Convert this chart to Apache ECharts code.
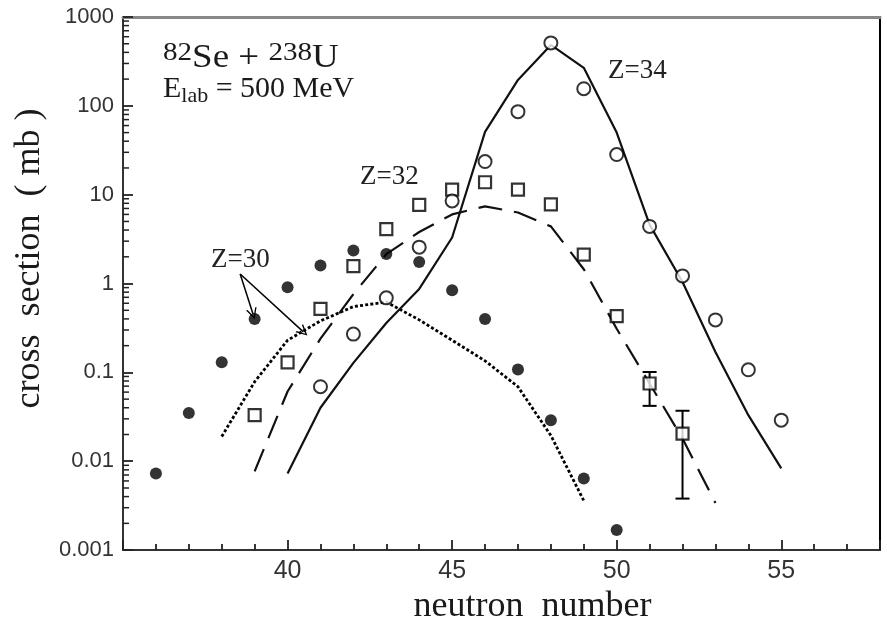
<!DOCTYPE html>
<html>
<head>
<meta charset="utf-8">
<script src="https://cdn.jsdelivr.net/npm/echarts@6/dist/echarts.min.js"></script>
<style>
html,body{margin:0;padding:0;background:#fff;}
#c{width:887px;height:630px;}
</style>
</head>
<body>
<div id="c"></div>
<script>
// ---- data ----
const yTickLabels = ['0.001', '0.01', '0.1', '1', '10', '100', '1000'];
// minor tick mantissas within each decade of the log axis
const yMinorMantissas = [2, 3, 4, 5, 6, 7, 8, 9];
const yDecades = [0.001, 0.01, 0.1, 1, 10, 100];

// Z=30 data (filled circles)
const nZ30 = [36, 37, 38, 39, 40, 41, 42, 43, 44, 45, 46, 47, 48, 49, 50];
const sZ30 = [0.0073, 0.035, 0.13, 0.40, 0.91, 1.6, 2.35, 2.15, 1.75, 0.84, 0.40, 0.108, 0.029, 0.0064, 0.00168];

// Z=32 data (open squares)
const nZ32 = [39, 40, 41, 42, 43, 44, 45, 46, 47, 48, 49, 50, 51, 52];
const sZ32 = [0.033, 0.13, 0.52, 1.57, 4.1, 7.7, 11.4, 13.8, 11.4, 7.8, 2.12, 0.43, 0.075, 0.0205];

// Z=34 data (open circles)
const nZ34 = [41, 42, 43, 44, 45, 46, 47, 48, 49, 50, 51, 52, 53, 54, 55];
const sZ34 = [0.069, 0.27, 0.69, 2.57, 8.5, 23.6, 86, 511, 156, 28.3, 4.4, 1.22, 0.39, 0.107, 0.029];

// error bars on Z=32 : [N, low, high]
const errN = [51, 52];
const errLow = [0.042, 0.0038];
const errHigh = [0.101, 0.037];

// calculated curves
const cN30 = [38, 39, 40, 41, 42, 43, 44, 45, 46, 47, 48, 49];
const c30 = [0.019, 0.0785, 0.23, 0.38, 0.55, 0.62, 0.39, 0.23, 0.135, 0.069, 0.0195, 0.0036];

const cN32 = [39, 40, 41, 42, 43, 44, 45, 46, 47, 48, 49, 50, 51, 52, 53];
const c32 = [0.0077, 0.061, 0.24, 0.76, 2.14, 3.8, 6.0, 7.4, 6.3, 4.4, 1.45, 0.31, 0.075, 0.018, 0.0034];

const cN34 = [40, 41, 42, 43, 44, 45, 46, 47, 48, 49, 50, 51, 52, 53, 54, 55];
const c34 = [0.0073, 0.040, 0.128, 0.36, 0.87, 3.3, 51, 196, 485, 268, 50, 4.6, 1.04, 0.17, 0.033, 0.0083];

// arrow annotation for Z=30 : start and two ends (data units)
const arrowStart = [38.56, 1.28];
const arrowEnds = [[38.95, 0.455], [40.48, 0.286]];

// ---- build ----
const zip = (a, b) => a.map((v, i) => [v, b[i]]);
const SERIF = '"Liberation Serif", "Times New Roman", serif';
const SANS = '"Liberation Sans", Arial, sans-serif';
const INK = '#111';
const TICK = '#222';
const X_MIN = 35, X_MAX = 58;

const yMinorValues = [];
yDecades.forEach(d => yMinorMantissas.forEach(m => yMinorValues.push(d * m)));

const chart = echarts.init(document.getElementById('c'), null, {renderer: 'canvas'});

const chevron = 'path://M5,0 L10,10 L8.6,10 L5,2.6 L1.4,10 L0,10 Z';

const option = {
  animation: false,
  backgroundColor: '#fff',
  textStyle: {fontFamily: SERIF, color: '#222'},
  grid: {left: 123, right: 7, top: 17, bottom: 78},
  xAxis: [{
    type: 'value', min: X_MIN, max: X_MAX, interval: 5,
    name: 'neutron  number', nameLocation: 'middle', nameGap: 36,
    nameTextStyle: {fontFamily: SERIF, fontSize: 36, color: '#1a1a1a', padding: [0, 0, 0, 62]},
    axisLine: {show: true, lineStyle: {color: '#333', width: 2}},
    axisTick: {show: true, inside: true, length: 10, lineStyle: {color: TICK, width: 1.8}},
    minorTick: {show: true, splitNumber: 5, length: 6, lineStyle: {color: TICK, width: 1.8}},
    axisLabel: {fontFamily: SANS, fontSize: 25, color: '#333', margin: 9, showMinLabel: false, showMaxLabel: false},
    splitLine: {show: false}
  }, {
    type: 'value', min: X_MIN, max: X_MAX, position: 'top',
    axisLine: {show: true, lineStyle: {color: '#888', width: 3}},
    axisTick: {show: false}, axisLabel: {show: false}, splitLine: {show: false}
  }],
  yAxis: [{
    type: 'log', logBase: 10, min: 0.001, max: 1000,
    name: 'cross  section  ( mb )', nameLocation: 'middle', nameGap: 68,
    nameTextStyle: {fontFamily: SERIF, fontSize: 36, color: '#1a1a1a', padding: [0, 0, 0, 50]},
    axisLine: {show: true, lineStyle: {color: '#333', width: 2}},
    axisTick: {show: true, inside: true, length: 10, lineStyle: {color: TICK, width: 1.8}},
    axisLabel: {
      fontFamily: SANS, fontSize: 22, color: '#333', margin: 9,
      formatter: v => yTickLabels[Math.round(Math.log10(v)) + 3]
    },
    splitLine: {show: false}
  }, {
    type: 'log', logBase: 10, min: 0.001, max: 1000, position: 'right',
    axisLine: {show: true, lineStyle: {color: '#000', width: 2}},
    axisTick: {show: false}, axisLabel: {show: false}, splitLine: {show: false}
  }],
  series: [
    {
      name: 'y minor ticks', type: 'custom', z: 2, silent: true,
      data: yMinorValues.map(v => [X_MIN, v]),
      renderItem: function (params, api) {
        const p = api.coord([api.value(0), api.value(1)]);
        return {type: 'line', shape: {x1: p[0], y1: p[1], x2: p[0] + 6, y2: p[1]},
                style: {stroke: TICK, lineWidth: 1.5}};
      }
    },
    {
      name: 'calc Z=30', type: 'line', data: zip(cN30, c30), showSymbol: false, symbol: 'none',
      lineStyle: {color: '#000', width: 2.8, type: [3, 2.2]}, z: 3
    },
    {
      name: 'calc Z=32', type: 'line', data: zip(cN32, c32), showSymbol: false, symbol: 'none',
      lineStyle: {color: INK, width: 2.2, type: [24, 12]}, z: 3
    },
    {
      name: 'calc Z=34', type: 'line', data: zip(cN34, c34), showSymbol: false, symbol: 'none',
      lineStyle: {color: INK, width: 2.2}, z: 3
    },
    {
      name: 'Z=30', type: 'scatter', data: zip(nZ30, sZ30), symbol: 'circle', symbolSize: 12,
      itemStyle: {color: '#000'}, z: 5
    },
    {
      name: 'Z=32', type: 'scatter', data: zip(nZ32, sZ32), symbol: 'rect', symbolSize: 12,
      itemStyle: {color: '#fff', borderColor: '#000', borderWidth: 2.2}, z: 5
    },
    {
      name: 'Z=34', type: 'scatter', data: zip(nZ34, sZ34), symbol: 'circle', symbolSize: 13,
      itemStyle: {color: '#fff', borderColor: '#000', borderWidth: 2}, z: 5
    },
    {
      name: 'errors', type: 'custom', z: 4,
      data: errN.map((n, i) => [n, errLow[i], errHigh[i]]),
      renderItem: function (params, api) {
        const lo = api.coord([api.value(0), api.value(1)]);
        const hi = api.coord([api.value(0), api.value(2)]);
        const w = 7;
        const st = {stroke: '#000', lineWidth: 2};
        return {
          type: 'group',
          children: [
            {type: 'line', shape: {x1: lo[0], y1: lo[1], x2: hi[0], y2: hi[1]}, style: st},
            {type: 'line', shape: {x1: lo[0] - w, y1: lo[1], x2: lo[0] + w, y2: lo[1]}, style: st},
            {type: 'line', shape: {x1: hi[0] - w, y1: hi[1], x2: hi[0] + w, y2: hi[1]}, style: st}
          ]
        };
      }
    },
    {
      name: 'arrows', type: 'lines', coordinateSystem: 'cartesian2d', z: 6,
      symbol: ['none', chevron], symbolSize: [0, 11],
      lineStyle: {color: '#000', width: 1.5, opacity: 1, curveness: 0},
      data: arrowEnds.map(e => ({coords: [arrowStart, e]}))
    }
  ],
  graphic: [
    {
      type: 'text', left: 163, top: 40, silent: true, scaleX: 1.12,
      style: {
        text: '{sup|82}{m|Se + }{sup|238}{m|U}',
        fill: '#1a1a1a',
        rich: {
          m: {fontFamily: SERIF, fontSize: 33, lineHeight: 36, fill: '#1a1a1a'},
          sup: {fontFamily: SERIF, fontSize: 26, lineHeight: 24, verticalAlign: 'top', fill: '#1a1a1a'}
        }
      }
    },
    {
      type: 'text', left: 163, top: 74, silent: true,
      style: {
        text: '{m|E}{sub|lab}{m| = 500 MeV}',
        fill: '#1a1a1a',
        rich: {
          m: {fontFamily: SERIF, fontSize: 30, lineHeight: 36, fill: '#1a1a1a'},
          sub: {fontFamily: SERIF, fontSize: 22, lineHeight: 22, verticalAlign: 'bottom', fill: '#1a1a1a'}
        }
      }
    },
    {type: 'text', left: 608, top: 57, silent: true,
     style: {text: 'Z=34', fontFamily: SERIF, fontSize: 27, fill: '#222'}},
    {type: 'text', left: 360, top: 163, silent: true,
     style: {text: 'Z=32', fontFamily: SERIF, fontSize: 27, fill: '#222'}},
    {type: 'text', left: 211, top: 246, silent: true,
     style: {text: 'Z=30', fontFamily: SERIF, fontSize: 27, fill: '#222'}}
  ]
};
chart.setOption(option);
</script>
</body>
</html>
